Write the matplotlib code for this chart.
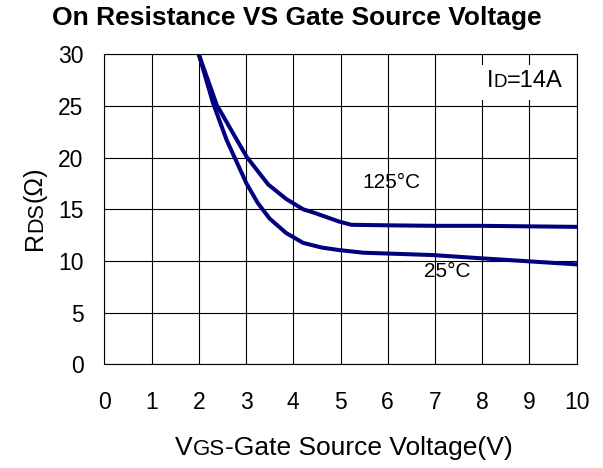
import matplotlib
matplotlib.use("Agg")
import matplotlib.pyplot as plt

plt.rcParams['font.family'] = ['Liberation Sans', 'DejaVu Sans']

# data
vgs_125 = [2.0, 2.38, 3.01, 3.47, 3.85, 4.21, 4.42, 4.98, 5.23, 6.0, 7.0, 8.0, 9.0, 10.0]
rds_125 = [30.0, 25.1, 20.1, 17.4, 16.0, 15.0, 14.7, 13.8, 13.5, 13.45, 13.4, 13.4, 13.35, 13.3]
vgs_25 = [2.0, 2.30, 2.59, 3.01, 3.25, 3.5, 3.85, 4.21, 4.6, 4.98, 5.48, 6.96, 8.01, 10.0]
rds_25 = [30.0, 25.3, 21.7, 17.5, 15.6, 14.1, 12.7, 11.75, 11.3, 11.05, 10.8, 10.57, 10.25, 9.67]

x_ticks = list(range(0, 11))
y_ticks = [0, 5, 10, 15, 20, 25, 30]
title = "On Resistance VS Gate Source Voltage"

W, H = 603, 468
fig = plt.figure(figsize=(W / 100, H / 100), dpi=100)
ax = fig.add_axes([104.3 / W, 1 - 364.3 / H, (576.7 - 104.3) / W, (364.3 - 54.3) / H])

navy = "#000080"
ax.plot(vgs_125, rds_125, color=navy, lw=2.9, solid_joinstyle="round")
ax.plot(vgs_25, rds_25, color=navy, lw=2.9, solid_joinstyle="round")

ax.set_xlim(0, 10)
ax.set_ylim(0, 30)
ax.set_xticks(x_ticks)
ax.set_yticks(y_ticks)
ax.grid(True, color="black", lw=0.8)
ax.set_axisbelow(True)
for s in ax.spines.values():
    s.set_linewidth(0.8)
ax.tick_params(axis="both", length=0, labelsize=16.5)
ax.tick_params(axis="x", pad=19)
ax.tick_params(axis="y", pad=15)

ax.text(6.08, 17.6, "125°C", fontsize=15, ha="center", va="center")
ax.text(7.26, 8.95, "25°C", fontsize=15, ha="center", va="center")

fig.text(297 / W, 1 - 25 / H, title, fontsize=19, fontweight="bold",
         ha="center", va="baseline")

fig.canvas.draw()
renderer = fig.canvas.get_renderer()


def rich(x_px, y_px, parts, rotation=0, center=False):
    # pieces of text one after the other on a shared baseline
    texts = []
    x, y = x_px, y_px
    for s, size in parts:
        t = fig.text(x / W, 1 - y / H, s, fontsize=size, rotation=rotation,
                     rotation_mode="anchor", ha="left", va="baseline")
        bb = t.get_window_extent(renderer)
        if rotation == 90:
            y -= bb.height
        else:
            x += bb.width
        texts.append(t)
    if center:
        # shift so the whole run is centred on the given point
        dx = (x - x_px) / 2
        dy = (y - y_px) / 2
        for t in texts:
            px, py = t.get_position()
            t.set_position((px - dx / W, py + dy / H))


# axis labels with small-caps style subscripts
rich(344, 455, [("V", 19), ("GS", 16), ("-Gate Source Voltage(V)", 19)], center=True)
rich(42, 208.5, [("R", 18), ("DS", 15.5), ("(Ω)", 18)], rotation=90, center=True)

# I_D box, white background hides the grid behind it
bx = fig.add_axes([481 / W, 1 - 100 / H, 92 / W, 35 / H])
bx.set_facecolor("white")
bx.set_xticks([])
bx.set_yticks([])
for s in bx.spines.values():
    s.set_visible(False)
rich(525, 86.7, [("I", 17), ("D", 13.5), ("=14A", 17)], center=True)

fig.savefig("out.png", dpi=100)
